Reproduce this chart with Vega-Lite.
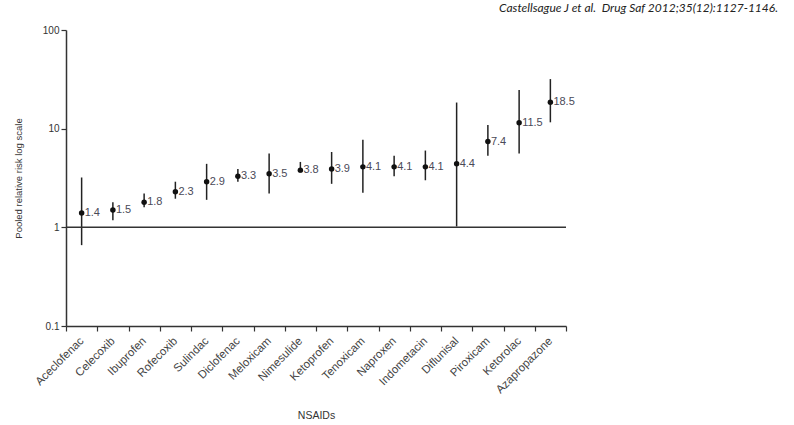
{
  "$schema": "https://vega.github.io/schema/vega-lite/v6.json",
  "autosize": {"type": "none"},
  "width": 500,
  "height": 296,
  "padding": {"left": 66, "top": 30, "right": 228, "bottom": 99},
  "background": "white",
  "config": {"view": {"stroke": null}, "font": "Liberation Sans"},
  "title": {
    "text": "Castellsague J et al.\u00a0 Drug Saf 2012;35(12):1127-1146.",
    "anchor": "end",
    "frame": "group",
    "dx": 212,
    "offset": 10,
    "font": "Lato",
    "fontStyle": "italic",
    "fontWeight": "normal",
    "fontSize": 12,
    "color": "#222"
  },
  "data": {
    "values": [
      {"drug": "Aceclofenac", "rr": 1.4, "lo": 0.66, "hi": 3.2},
      {"drug": "Celecoxib", "rr": 1.5, "lo": 1.18, "hi": 1.8},
      {"drug": "Ibuprofen", "rr": 1.8, "lo": 1.6, "hi": 2.2},
      {"drug": "Rofecoxib", "rr": 2.3, "lo": 1.95, "hi": 2.9},
      {"drug": "Sulindac", "rr": 2.9, "lo": 1.9, "hi": 4.4},
      {"drug": "Diclofenac", "rr": 3.3, "lo": 2.9, "hi": 3.9},
      {"drug": "Meloxicam", "rr": 3.5, "lo": 2.2, "hi": 5.6},
      {"drug": "Nimesulide", "rr": 3.8, "lo": 3.6, "hi": 4.6},
      {"drug": "Ketoprofen", "rr": 3.9, "lo": 2.76, "hi": 5.8},
      {"drug": "Tenoxicam", "rr": 4.1, "lo": 2.24, "hi": 7.7},
      {"drug": "Naproxen", "rr": 4.1, "lo": 3.3, "hi": 5.3},
      {"drug": "Indometacin", "rr": 4.1, "lo": 3.0, "hi": 6.0},
      {"drug": "Diflunisal", "rr": 4.4, "lo": 1.02, "hi": 18.4},
      {"drug": "Piroxicam", "rr": 7.4, "lo": 5.3, "hi": 10.9},
      {"drug": "Ketorolac", "rr": 11.5, "lo": 5.6, "hi": 24.6},
      {"drug": "Azapropazone", "rr": 18.5, "lo": 11.6, "hi": 31.8}
    ]
  },
  "layer": [
    {
      "mark": {"type": "rule", "color": "#222", "strokeWidth": 1.5},
      "encoding": {
        "x": {
          "field": "drug",
          "type": "nominal",
          "sort": null,
          "title": "NSAIDs",
          "axis": {
            "labelAngle": -45,
            "labelAlign": "right",
            "labelBaseline": "middle",
            "labelFontSize": 11.5,
            "labelColor": "#444",
            "labelPadding": 8,
            "tickBand": "extent",
            "tickSize": 5,
            "tickColor": "#333",
            "tickWidth": 1.2,
            "domain": true,
            "domainColor": "#333",
            "domainWidth": 1.5,
            "titleFontSize": 10.5,
            "titleFontWeight": "normal",
            "titleColor": "#333",
            "titlePadding": 15
          }
        },
        "y": {
          "field": "lo",
          "type": "quantitative",
          "scale": {"type": "log", "domain": [0.1, 100], "nice": false},
          "title": "Pooled relative risk log scale",
          "axis": {
            "values": [0.1, 1, 10, 100],
            "format": "~g",
            "grid": false,
            "labelFontSize": 10,
            "labelColor": "#333",
            "tickSize": 5,
            "tickColor": "#333",
            "tickWidth": 1.2,
            "domainColor": "#333",
            "domainWidth": 1.5,
            "titleFontSize": 9.5,
            "titleFontWeight": "normal",
            "titleColor": "#333",
            "titlePadding": 19
          }
        },
        "y2": {"field": "hi"}
      }
    },
    {
      "data": {"values": [{"ref": 1}]},
      "mark": {"type": "rule", "color": "#333", "strokeWidth": 1.5},
      "encoding": {"y": {"field": "ref", "type": "quantitative"}}
    },
    {
      "mark": {"type": "point", "filled": true, "color": "#111", "size": 30, "opacity": 1},
      "encoding": {
        "x": {"field": "drug", "type": "nominal", "sort": null},
        "y": {"field": "rr", "type": "quantitative"}
      }
    },
    {
      "mark": {"type": "text", "align": "left", "dx": 3, "fontSize": 11, "color": "#4a4a58", "baseline": "middle"},
      "encoding": {
        "x": {"field": "drug", "type": "nominal", "sort": null},
        "y": {"field": "rr", "type": "quantitative"},
        "text": {"field": "rr", "type": "quantitative", "format": ".1f"}
      }
    }
  ]
}
